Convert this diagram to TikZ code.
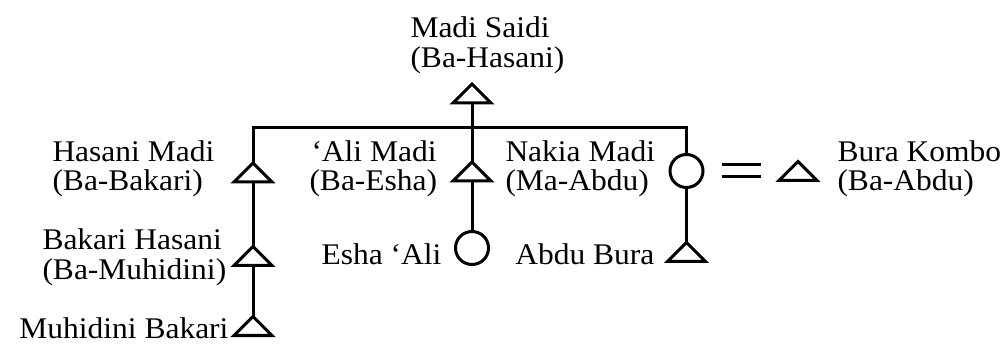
\documentclass[tikz,border=0pt]{standalone}
\usepackage{fontspec}
\setmainfont{Liberation Serif}[FakeStretch=1.05]
\begin{document}
\begin{tikzpicture}[x=1pt,y=-1pt, line width=3pt,
  tri/.style={minimum width=38pt, minimum height=19pt, inner sep=0pt, outer sep=0pt},
  circ/.style={circle, draw, minimum size=33pt, inner sep=0pt, outer sep=0pt},
  lbl/.style={inner sep=0pt, font=\fontsize{30}{30}\selectfont},
]
\useasboundingbox (0,0) rectangle (1004,347);
% persons
\node[tri] (madi) at (472,93.5) {};
\node[tri] (hasani) at (253,172.5) {};
\node[tri] (bakari) at (253,256) {};
\node[tri] (muhidini) at (253,326) {};
\node[tri] (ali) at (472,171.5) {};
\node[circ] (esha) at (472,248) {};
\node[circ] (nakia) at (686.5,171) {};
\node[tri] (abdu) at (686.5,252) {};
\node[tri] (bura) at (798,171) {};
\foreach \n in {madi,hasani,bakari,muhidini,ali,abdu,bura}
  \draw (\n.north) -- (\n.south east) -- (\n.south west) -- cycle;
% connectors
\coordinate (bar) at (472,128);
\draw (madi.south) -- (ali.north);
\draw (hasani.north) -- (hasani.north |- bar) -- (nakia.north |- bar) -- (nakia.north);
\draw (hasani.south) -- (bakari.north);
\draw (bakari.south) -- (muhidini.north);
\draw (ali.south) -- (esha.north);
\draw (nakia.south) -- (abdu.north);
\draw ([xshift=19.3pt,yshift=6pt]nakia.east) -- ([xshift=-18pt,yshift=6pt]bura.west);
\draw ([xshift=19.3pt,yshift=-6pt]nakia.east) -- ([xshift=-18pt,yshift=-6pt]bura.west);
% labels
\node[lbl, anchor=base west] (madiA) at (409,38) {Madi Saidi};
\node[lbl, anchor=base west] (madiB) at (409,68) {(Ba-Hasani)};
\node[lbl, anchor=base west] (hasaniA) at (51,162) {Hasani Madi};
\node[lbl, anchor=base west] (hasaniB) at (51,191) {(Ba-Bakari)};
\node[lbl, anchor=base west] (bakariA) at (41,250) {Bakari Hasani};
\node[lbl, anchor=base west] (bakariB) at (41,280) {(Ba-Muhidini)};
\node[lbl, anchor=base east] (muhidiniA) at (230,338) {Muhidini Bakari};
\node[lbl, anchor=base west] (aliA) at (310,162) {‘Ali Madi};
\node[lbl, anchor=base west] (aliB) at (308,191) {(Ba-Esha)};
\node[lbl, anchor=base east] (eshaA) at (443,265) {Esha ‘Ali};
\node[lbl, anchor=base west] (nakiaA) at (504,162) {Nakia Madi};
\node[lbl, anchor=base west] (nakiaB) at (504,191) {(Ma-Abdu)};
\node[lbl, anchor=base east] (abduA) at (656,265) {Abdu Bura};
\node[lbl, anchor=base west] (buraA) at (836,162) {Bura Kombo};
\node[lbl, anchor=base west] (buraB) at (836,191) {(Ba-Abdu)};
\end{tikzpicture}
\end{document}
